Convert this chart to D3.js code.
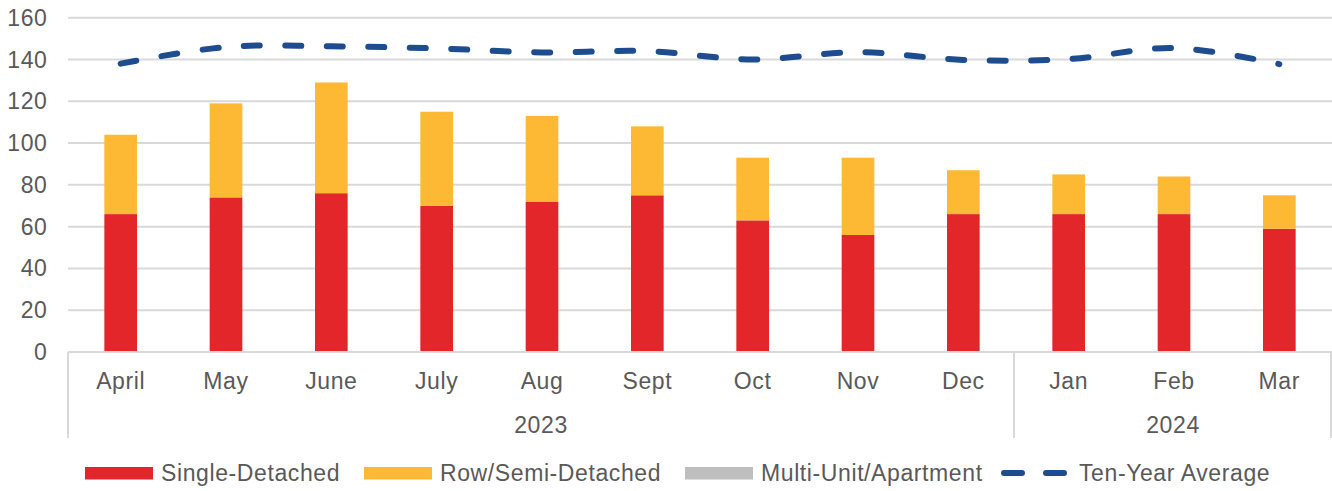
<!DOCTYPE html>
<html>
<head>
<meta charset="utf-8">
<script src="https://cdn.jsdelivr.net/npm/d3@7"></script>
<style>
  body { margin: 0; background: #fff; }
  text { font-family: "Liberation Sans", Arial, sans-serif; fill: #595959; font-size: 23px; letter-spacing: 0.6px; }
</style>
</head>
<body>
<svg></svg>
<script>
var svgWidth = 1332, svgHeight = 491;

// data
var months = ["April", "May", "June", "July", "Aug", "Sept", "Oct", "Nov", "Dec", "Jan", "Feb", "Mar"];
var years = [{label: "2023", from: 0, to: 8}, {label: "2024", from: 9, to: 11}];
var singleDetached = [66, 74, 76, 70, 72, 75, 63, 56, 66, 66, 66, 59];
var rowSemi = [38, 45, 53, 45, 41, 33, 30, 37, 21, 19, 18, 16];
var multiUnit = [0, 0, 0, 0, 0, 0, 0, 0, 0, 0, 0, 0];
var tenYearAvg = [138, 146, 146.3, 145.3, 143.4, 144, 140, 143.5, 139.8, 140.2, 145.5, 137.8];
var yTicks = [0, 20, 40, 60, 80, 100, 120, 140, 160];

var seriesNames = ["Single-Detached", "Row/Semi-Detached", "Multi-Unit/Apartment"];
var seriesColors = ["#E3262A", "#FDB933", "#BFBFBF"];
var lineColor = "#1D4C8F";

var svg = d3.select("svg")
            .attr("width", svgWidth)
            .attr("height", svgHeight);

var plotLeft = 68, plotRight = 1332, plotTop = 17.7, plotBottom = 352;

var x = d3.scaleBand().domain(months).range([plotLeft, plotRight])
          .paddingInner(0.69).paddingOuter(0.345);
var y = d3.scaleLinear().domain([0, 160]).range([plotBottom, plotTop]);

// gridlines + y labels
svg.append("g").selectAll("line")
    .data(yTicks)
    .enter().append("line")
        .attr("x1", plotLeft).attr("x2", plotRight)
        .attr("y1", function(d) { return y(d); })
        .attr("y2", function(d) { return y(d); })
        .style("stroke", "#d9d9d9")
        .style("stroke-width", 2);

svg.append("g").selectAll("text")
    .data(yTicks)
    .enter().append("text")
        .attr("x", 47.5)
        .attr("y", function(d) { return y(d); })
        .attr("dy", "0.35em")
        .attr("text-anchor", "end")
        .text(function(d) { return d; });

// stacked bars
var rows = months.map(function(m, i) {
    return {month: m, s0: singleDetached[i], s1: rowSemi[i], s2: multiUnit[i]};
});
var stack = d3.stack().keys(["s0", "s1", "s2"]);
var layers = stack(rows);

svg.append("g").selectAll("g")
    .data(layers)
    .enter().append("g")
        .attr("fill", function(d, i) { return seriesColors[i]; })
    .selectAll("rect")
    .data(function(d) { return d; })
    .enter().append("rect")
        .attr("x", function(d) { return x(d.data.month); })
        .attr("width", x.bandwidth())
        .attr("y", function(d) { return y(d[1]); })
        .attr("height", function(d) { return y(d[0]) - y(d[1]); });

// ten-year average line
var line = d3.line()
    .x(function(d, i) { return x(months[i]) + x.bandwidth() / 2; })
    .y(function(d) { return y(d); })
    .curve(d3.curveCatmullRom);

svg.append("path")
    .datum(tenYearAvg)
    .attr("d", line)
    .attr("fill", "none")
    .style("stroke", lineColor)
    .style("stroke-width", 6)
    .style("stroke-linecap", "round")
    .style("stroke-dasharray", "16,25.5");

// category axis: baseline and separators
svg.append("line")
    .attr("x1", plotLeft).attr("x2", plotRight)
    .attr("y1", plotBottom).attr("y2", plotBottom)
    .style("stroke", "#d9d9d9").style("stroke-width", 2);

var sepX = [plotLeft, x(months[9]) - x.step() * x.paddingInner() / 2 - 2, plotRight - 1];
svg.append("g").selectAll("line")
    .data(sepX)
    .enter().append("line")
        .attr("x1", function(d) { return d; })
        .attr("x2", function(d) { return d; })
        .attr("y1", plotBottom).attr("y2", 438)
        .style("stroke", "#d9d9d9").style("stroke-width", 2);

svg.append("g").selectAll("text")
    .data(months)
    .enter().append("text")
        .attr("x", function(d) { return x(d) + x.bandwidth() / 2; })
        .attr("y", 389)
        .attr("text-anchor", "middle")
        .text(function(d) { return d; });

svg.append("g").selectAll("text")
    .data(years)
    .enter().append("text")
        .attr("x", function(d) {
            var a = d.from === 0 ? plotLeft : sepX[1];
            var b = d.to === 11 ? plotRight : sepX[1];
            return (a + b) / 2;
        })
        .attr("y", 432.5)
        .attr("text-anchor", "middle")
        .text(function(d) { return d.label; });

// legend
var legendX = [85, 364, 685];
var legend = svg.append("g");
seriesNames.forEach(function(name, i) {
    legend.append("rect")
        .attr("x", legendX[i]).attr("y", 467)
        .attr("width", 68).attr("height", 12.5)
        .attr("fill", seriesColors[i]);
    legend.append("text")
        .attr("x", legendX[i] + 76).attr("y", 481)
        .text(name);
});
legend.append("line")
    .attr("x1", 1004).attr("x2", 1066)
    .attr("y1", 473).attr("y2", 473)
    .style("stroke", lineColor)
    .style("stroke-width", 6)
    .style("stroke-linecap", "round")
    .style("stroke-dasharray", "18,24");
legend.append("text")
    .attr("x", 1079).attr("y", 481)
    .text("Ten-Year Average");
</script>
</body>
</html>
